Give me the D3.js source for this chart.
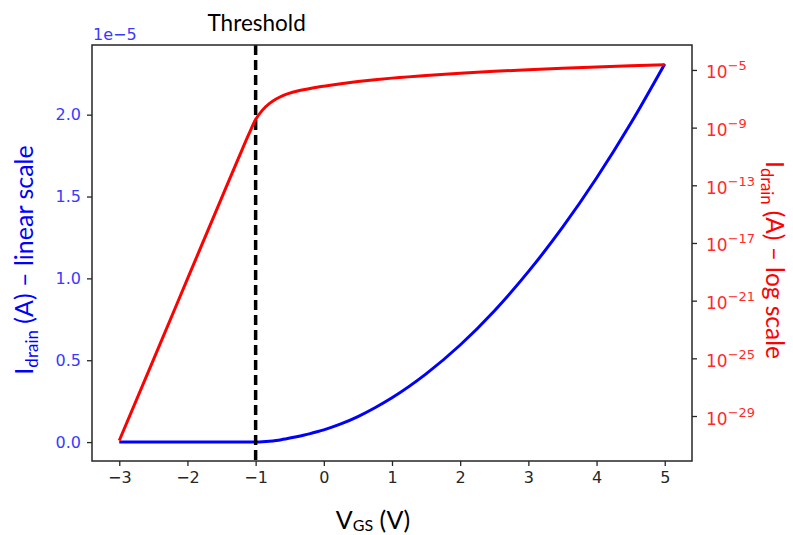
<!DOCTYPE html>
<html><head><meta charset="utf-8">
<script src="https://cdn.jsdelivr.net/npm/d3@7"></script>
<style>body{margin:0;background:#fff}</style>
</head><body><svg id="c" width="793" height="535"></svg>
<script>
// Gate voltage samples (V)
const vgs = [-3, -2.5, -2, -1.5, -1.25, -1.1, -1.0, -0.9, -0.8, -0.7, -0.6, -0.5, -0.4, -0.3, -0.2, -0.1, 0, 0.25, 0.5, 0.75, 1, 1.5, 2, 2.5, 3, 3.5, 4, 4.5, 5];
// Drain current (A)
const idrain = [2.0e-31, 7.9e-26, 3.2e-20, 1.3e-14, 7.9e-12, 3.5e-10, 3.67e-9, 1.64e-8, 4.62e-8, 9.66e-8, 1.68e-7, 2.48e-7, 3.31e-7, 4.20e-7, 5.19e-7, 6.31e-7, 7.5e-7, 1.11e-6, 1.56e-6, 2.10e-6, 2.71e-6, 4.17e-6, 5.93e-6, 8.01e-6, 1.041e-5, 1.311e-5, 1.613e-5, 1.946e-5, 2.31e-5];
const xTicks = [-3, -2, -1, 0, 1, 2, 3, 4, 5];
const linTicks = [0, 0.5e-5, 1.0e-5, 1.5e-5, 2.0e-5];
const logTickExps = [-29, -25, -21, -17, -13, -9, -5];
const thresholdV = -1;

const W = 793, H = 535;
const m = {l: 92, r: 692, t: 45, b: 461};
const svg = d3.select("#c");
const tickFont = "'DejaVu Sans', sans-serif";
const labFont = "Lato, 'Open Sans', sans-serif";

const x = d3.scaleLinear().domain([-3.4, 5.4]).range([m.l, m.r]);
const yL = d3.scaleLinear().domain([-0.1155e-5, 2.4255e-5]).range([m.b, m.t]);
const yR = d3.scaleLog().domain([Math.pow(10, -32.12), Math.pow(10, -3.27)]).range([m.b, m.t]);

const pts = vgs.map((v, i) => ({v, i: idrain[i]}));

// blue linear
svg.append("path").datum(pts)
  .attr("fill", "none").attr("stroke", "#0000ff").attr("stroke-width", 3)
  .attr("d", d3.line().x(d => x(d.v)).y(d => yL(d.i)).curve(d3.curveMonotoneX));

// threshold
svg.append("line")
  .attr("x1", x(thresholdV)).attr("x2", x(thresholdV))
  .attr("y1", m.t).attr("y2", m.b)
  .attr("stroke", "#000").attr("stroke-width", 3.5).attr("stroke-dasharray", "10,5");

// red log
svg.append("path").datum(pts)
  .attr("fill", "none").attr("stroke", "#ff0000").attr("stroke-width", 3)
  .attr("d", d3.line().x(d => x(d.v)).y(d => yR(d.i)).curve(d3.curveMonotoneX));

// frame
svg.append("rect").attr("x", m.l).attr("y", m.t).attr("width", m.r - m.l).attr("height", m.b - m.t)
  .attr("fill", "none").attr("stroke", "#262626").attr("stroke-width", 1.5);

function styleAxis(g, color) {
  g.select(".domain").remove();
  g.selectAll(".tick line").attr("stroke", "#262626").attr("stroke-width", 1.3);
  g.selectAll(".tick text").attr("fill", color).attr("font-family", tickFont).attr("font-size", 16);
}

// x axis
const gx = svg.append("g").attr("transform", `translate(0,${m.b})`)
  .call(d3.axisBottom(x).tickValues(xTicks).tickSize(5).tickPadding(6).tickFormat(d3.format("d")));
styleAxis(gx, "#262626");

// left axis
const gl = svg.append("g").attr("transform", `translate(${m.l},0)`)
  .call(d3.axisLeft(yL).tickValues(linTicks).tickSize(5).tickPadding(6).tickFormat(d => (d / 1e-5).toFixed(1)));
styleAxis(gl, "#3a3aff");

// right axis
const gr = svg.append("g").attr("transform", `translate(${m.r},0)`)
  .call(d3.axisRight(yR).tickValues(logTickExps.map(e => Math.pow(10, e))).tickSize(5).tickPadding(9).tickFormat(() => ""));
styleAxis(gr, "#ff2a2a");
gr.selectAll(".tick text").each(function(d, i) {
  const t = d3.select(this).attr("dy", null).attr("font-size", 17);
  t.attr("y", 8);
  t.append("tspan").text("10");
  t.append("tspan").attr("font-size", 13).attr("dy", -8).text("\u2212" + Math.abs(logTickExps[i]));
});

// offset text
svg.append("text").attr("x", m.l + 1).attr("y", 40)
  .attr("font-family", tickFont).attr("font-size", 16).attr("fill", "#3a3aff").text("1e\u22125");

// Threshold label
svg.append("text").attr("x", x(thresholdV) + 1).attr("y", 31).attr("text-anchor", "middle")
  .attr("font-family", labFont).attr("font-size", 22.5).attr("fill", "#000").text("Threshold");

// x label
const xl = svg.append("text").attr("x", 373).attr("y", 529).attr("text-anchor", "middle")
  .attr("font-family", labFont).attr("font-size", 25).attr("fill", "#000");
xl.append("tspan").text("V");
xl.append("tspan").attr("font-size", 16).attr("dy", 2).text("GS");
xl.append("tspan").attr("dy", -2).text(" (V)");

// left label
const ll = svg.append("text").attr("transform", "translate(33,260) rotate(-90)").attr("text-anchor", "middle")
  .attr("font-family", labFont).attr("font-size", 25).attr("fill", "#0000ff");
ll.append("tspan").text("I");
ll.append("tspan").attr("font-size", 17).attr("dy", 5).text("drain");
ll.append("tspan").attr("dy", -5).text(" (A) \u2013 linear scale");

// right label
const rl = svg.append("text").attr("transform", "translate(766,260) rotate(90)").attr("text-anchor", "middle")
  .attr("font-family", labFont).attr("font-size", 24.5).attr("fill", "#ff0000");
rl.append("tspan").text("I");
rl.append("tspan").attr("font-size", 16.5).attr("dy", 5).text("drain");
rl.append("tspan").attr("dy", -5).text(" (A) \u2013 log scale");
</script>
</body></html>
